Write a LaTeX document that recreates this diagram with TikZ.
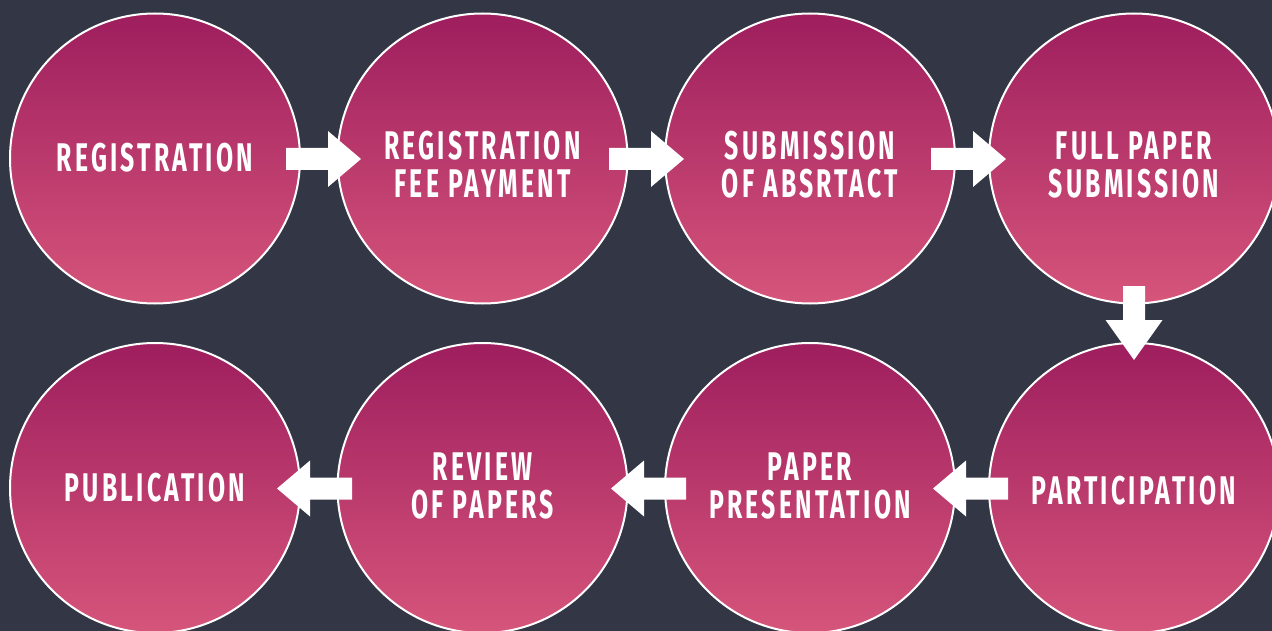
\documentclass[tikz,border=0pt]{standalone}
\usepackage{fontspec}
\usetikzlibrary{calc}
\newfontfamily\stagefont[FakeStretch=0.62,LetterSpace=8]{Fira Sans}
\definecolor{bgcol}{HTML}{323645}
\definecolor{topcol}{HTML}{9E1E5E}
\definecolor{botcol}{HTML}{D6557B}
\tikzset{
  stage/.style={circle, draw=white, line width=2pt, minimum size=290pt,
    inner sep=0pt, top color=topcol, bottom color=botcol},
  lbl/.style={text=white, font=\stagefont\bfseries\fontsize{40}{38}\selectfont,
    align=center, inner sep=0pt},
  rarrow/.pic={\fill[white] (0,-11) -- (42,-11) -- (42,-28) -- (75,0) -- (42,28)
    -- (42,11) -- (0,11) -- cycle;},
  darrow/.pic={\fill[white] (-11,0) -- (-11,34) -- (-28.5,34) -- (0,74) -- (28.5,34)
    -- (11,34) -- (11,0) -- cycle;}
}
\begin{document}
\begin{tikzpicture}[x=1pt,y=-1pt]
\useasboundingbox (0,0) rectangle (1272,631);
\clip (0,0) rectangle (1272,631);
\fill[bgcol] (0,0) rectangle (1272,631);
% circles
\node[stage] (c1) at (155,158.5) {};
\node[stage] (c2) at (482.5,158.5) {};
\node[stage] (c3) at (810,158.5) {};
\node[stage] (c4) at (1134,158.5) {};
\node[stage] (c5) at (1134,488) {};
\node[stage] (c6) at (810,488) {};
\node[stage] (c7) at (482.5,488) {};
\node[stage] (c8) at (155,488) {};
% labels
\node[lbl] (t1) at ($(c1)+(0,-1)$) {REGISTRATION};
\node[lbl] (t2) at ($(c2)+(0,6)$) {REGISTRATION\\FEE PAYMENT};
\node[lbl] (t3) at ($(c3)+(0,6)$) {SUBMISSION\\OF ABSRTACT};
\node[lbl] (t4) at ($(c4)+(0,6)$) {FULL PAPER\\SUBMISSION};
\node[lbl] (t5) at ($(c5)+(0,3)$) {PARTICIPATION};
\node[lbl] (t6) at ($(c6)+(0,-2)$) {PAPER\\PRESENTATION};
\node[lbl] (t7) at ($(c7)+(0,-2)$) {REVIEW\\OF PAPERS};
\node[lbl] (t8) at ($(c8)+(0,0)$) {PUBLICATION};
% arrows
\pic at ($(c1)+(131,0.5)$) {rarrow};
\pic at ($(c2)+(126.5,0.5)$) {rarrow};
\pic at ($(c3)+(121,0.5)$) {rarrow};
\pic at ($(c4)+(0,127.5)$) {darrow};
\pic[xscale=-1] at ($(c5)+(-126,0.5)$) {rarrow};
\pic[xscale=-1] at ($(c6)+(-124,0.5)$) {rarrow};
\pic[xscale=-1] at ($(c7)+(-130.5,0.5)$) {rarrow};
\end{tikzpicture}
\end{document}
